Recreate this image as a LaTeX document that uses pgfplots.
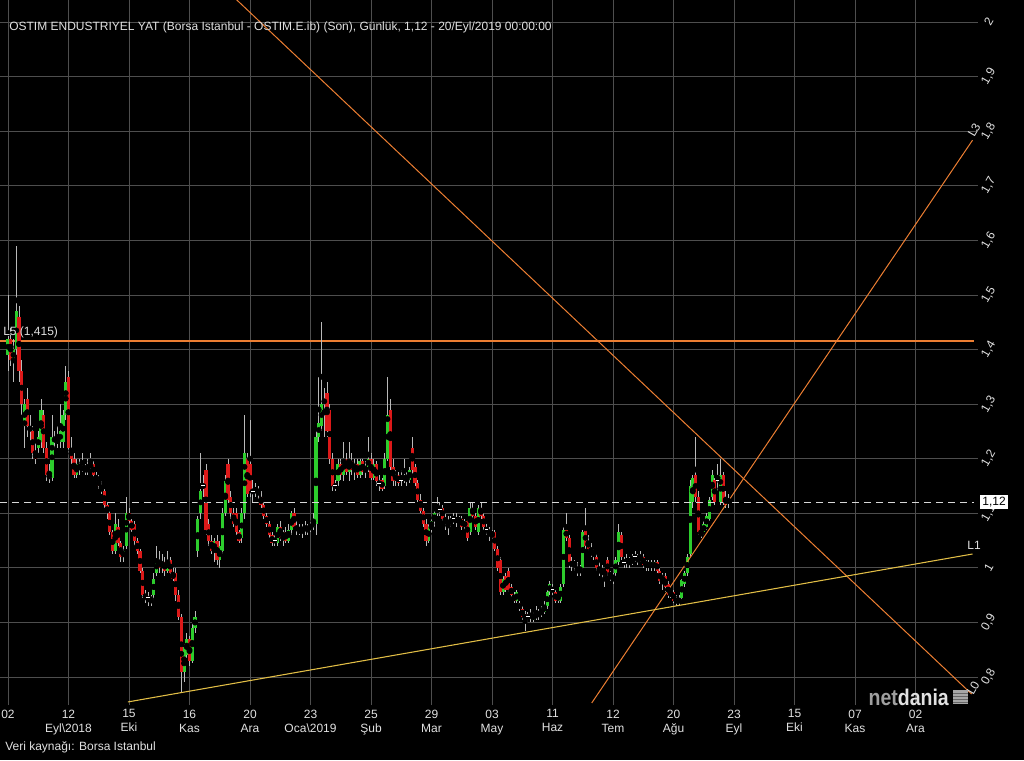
\documentclass[border=0pt]{standalone}
\usepackage{pgfplots}
\pgfplotsset{compat=1.18}
\usepackage{pgfplotstable}
\usepackage{fontspec}
\setmainfont{Liberation Sans}

\definecolor{upc}{RGB}{45,205,45}
\definecolor{downc}{RGB}{220,25,25}
\definecolor{wickc}{RGB}{185,185,185}
\definecolor{gridc}{RGB}{78,78,78}
\definecolor{orangec}{RGB}{236,126,50}
\definecolor{yellowc}{RGB}{226,190,70}
\definecolor{dashc}{RGB}{215,215,215}
\definecolor{labc}{RGB}{225,225,225}

% daily OHLC, x = trading day index
\pgfplotstableread{
i o h l c
0 1.390 1.500 1.360 1.420
1 1.420 1.440 1.370 1.380
2 1.380 1.420 1.340 1.400
3 1.400 1.590 1.390 1.470
4 1.460 1.480 1.340 1.360
5 1.360 1.380 1.280 1.300
6 1.260 1.310 1.220 1.300
7 1.310 1.330 1.240 1.260
8 1.260 1.280 1.230 1.250
9 1.250 1.260 1.200 1.210
10 1.210 1.230 1.190 1.200
11 1.220 1.250 1.210 1.240
12 1.230 1.310 1.220 1.290
13 1.280 1.290 1.210 1.220
14 1.220 1.230 1.160 1.170
15 1.170 1.190 1.155 1.165
16 1.165 1.280 1.160 1.240
17 1.240 1.250 1.220 1.230
18 1.230 1.260 1.220 1.235
19 1.230 1.300 1.220 1.250
20 1.230 1.290 1.220 1.280
21 1.280 1.370 1.270 1.340
22 1.350 1.360 1.210 1.220
23 1.220 1.240 1.190 1.200
24 1.200 1.210 1.165 1.170
25 1.170 1.200 1.165 1.190
26 1.190 1.200 1.170 1.180
27 1.180 1.210 1.175 1.185
28 1.185 1.190 1.170 1.175
29 1.175 1.200 1.170 1.185
30 1.185 1.210 1.180 1.190
31 1.190 1.195 1.165 1.170
32 1.170 1.175 1.155 1.160
33 1.160 1.170 1.145 1.150
34 1.150 1.160 1.135 1.140
35 1.140 1.145 1.110 1.115
36 1.115 1.120 1.090 1.100
37 1.100 1.105 1.060 1.065
38 1.065 1.070 1.025 1.030
39 1.030 1.100 1.025 1.080
40 1.075 1.090 1.040 1.045
41 1.045 1.050 1.010 1.020
42 1.020 1.040 1.010 1.030
43 1.040 1.130 1.035 1.100
44 1.100 1.110 1.080 1.085
45 1.085 1.090 1.065 1.070
46 1.080 1.085 1.040 1.050
47 1.050 1.055 1.025 1.030
48 1.030 1.035 0.990 0.995
49 0.995 1.000 0.945 0.950
50 0.950 0.960 0.935 0.945
51 0.945 0.955 0.930 0.945
52 0.945 0.950 0.930 0.940
53 0.950 0.990 0.940 0.980
54 0.990 1.040 0.985 1.015
55 1.015 1.030 0.990 1.000
56 1.000 1.025 0.990 1.010
57 1.010 1.020 0.985 0.995
58 0.995 1.030 0.990 1.015
59 1.015 1.020 0.985 0.990
60 0.990 1.000 0.975 0.980
61 0.990 1.000 0.940 0.950
62 0.950 0.960 0.905 0.910
63 0.910 0.915 0.770 0.810
64 0.810 0.860 0.790 0.855
65 0.840 0.880 0.835 0.870
66 0.870 0.875 0.820 0.830
67 0.830 0.900 0.825 0.890
68 0.890 0.920 0.880 0.910
69 1.030 1.095 1.020 1.090
70 1.100 1.210 1.090 1.140
71 1.150 1.170 1.130 1.150
72 1.180 1.190 1.060 1.070
73 1.080 1.090 1.040 1.050
74 1.050 1.060 1.025 1.030
75 1.030 1.055 1.010 1.050
76 1.050 1.060 1.005 1.015
77 1.015 1.050 1.000 1.040
78 1.030 1.110 1.025 1.100
79 1.100 1.170 1.095 1.160
80 1.190 1.200 1.120 1.125
81 1.130 1.140 1.090 1.100
82 1.100 1.110 1.075 1.080
83 1.100 1.110 1.060 1.065
84 1.065 1.070 1.045 1.050
85 1.055 1.110 1.045 1.100
86 1.100 1.280 1.090 1.210
87 1.200 1.210 1.130 1.135
88 1.190 1.270 1.130 1.140
89 1.140 1.160 1.120 1.140
90 1.140 1.155 1.130 1.145
91 1.145 1.150 1.125 1.135
92 1.130 1.140 1.110 1.115
93 1.115 1.120 1.090 1.095
94 1.095 1.100 1.075 1.080
95 1.080 1.085 1.055 1.060
96 1.060 1.065 1.040 1.045
97 1.050 1.060 1.040 1.050
98 1.045 1.080 1.040 1.075
99 1.075 1.085 1.050 1.055
100 1.055 1.070 1.040 1.065
101 1.065 1.075 1.045 1.050
102 1.050 1.080 1.045 1.070
103 1.070 1.105 1.060 1.100
104 1.100 1.110 1.070 1.075
105 1.075 1.085 1.060 1.070
106 1.070 1.080 1.060 1.065
107 1.065 1.080 1.055 1.075
108 1.075 1.085 1.060 1.070
109 1.070 1.080 1.060 1.075
110 1.070 1.085 1.065 1.080
111 1.075 1.100 1.070 1.085
112 1.080 1.250 1.060 1.240
113 1.240 1.350 1.230 1.265
114 1.260 1.450 1.250 1.300
115 1.300 1.330 1.240 1.310
116 1.320 1.340 1.240 1.250
117 1.290 1.300 1.190 1.200
118 1.200 1.210 1.140 1.150
119 1.150 1.160 1.140 1.150
120 1.160 1.200 1.150 1.190
121 1.190 1.200 1.160 1.170
122 1.170 1.230 1.160 1.200
123 1.200 1.210 1.170 1.175
124 1.175 1.230 1.160 1.195
125 1.195 1.210 1.170 1.180
126 1.180 1.200 1.160 1.190
127 1.190 1.200 1.165 1.170
128 1.170 1.200 1.165 1.195
129 1.195 1.200 1.170 1.175
130 1.175 1.195 1.165 1.185
131 1.185 1.240 1.175 1.200
132 1.200 1.210 1.160 1.165
133 1.165 1.200 1.160 1.190
134 1.190 1.195 1.150 1.160
135 1.155 1.170 1.140 1.155
136 1.160 1.165 1.140 1.145
137 1.150 1.210 1.145 1.200
138 1.200 1.350 1.195 1.280
139 1.290 1.310 1.180 1.185
140 1.185 1.200 1.150 1.160
141 1.160 1.180 1.150 1.170
142 1.170 1.175 1.150 1.155
143 1.160 1.180 1.150 1.160
144 1.160 1.200 1.155 1.170
145 1.170 1.175 1.150 1.160
146 1.160 1.185 1.155 1.180
147 1.220 1.240 1.170 1.180
148 1.185 1.190 1.150 1.155
149 1.155 1.160 1.120 1.125
150 1.125 1.135 1.100 1.105
151 1.105 1.110 1.075 1.080
152 1.080 1.090 1.040 1.050
153 1.050 1.080 1.045 1.075
154 1.075 1.090 1.060 1.085
155 1.085 1.105 1.075 1.100
156 1.100 1.130 1.095 1.110
157 1.107 1.120 1.095 1.107
158 1.110 1.115 1.085 1.090
159 1.090 1.100 1.070 1.085
160 1.085 1.095 1.060 1.080
161 1.080 1.095 1.075 1.090
162 1.090 1.100 1.080 1.090
163 1.090 1.100 1.075 1.085
164 1.085 1.095 1.080 1.090
165 1.090 1.095 1.070 1.075
166 1.075 1.090 1.070 1.085
167 1.085 1.090 1.050 1.055
168 1.065 1.120 1.060 1.110
169 1.110 1.120 1.090 1.095
170 1.095 1.100 1.070 1.075
171 1.065 1.115 1.060 1.110
172 1.110 1.120 1.090 1.095
173 1.095 1.100 1.070 1.075
174 1.070 1.080 1.060 1.070
175 1.070 1.075 1.050 1.060
176 1.060 1.070 1.050 1.065
177 1.065 1.070 1.030 1.035
178 1.035 1.040 0.995 1.000
179 1.015 1.020 0.950 0.955
180 0.955 0.985 0.950 0.980
181 0.985 0.990 0.955 0.960
182 0.995 1.000 0.955 0.960
183 0.965 0.970 0.945 0.950
184 0.950 0.955 0.935 0.940
185 0.940 0.960 0.935 0.955
186 0.935 0.940 0.920 0.925
187 0.925 0.930 0.905 0.910
188 0.915 0.920 0.885 0.905
189 0.910 0.920 0.900 0.910
190 0.910 0.925 0.900 0.915
191 0.905 0.920 0.900 0.915
192 0.915 0.930 0.905 0.910
193 0.910 0.925 0.905 0.920
194 0.915 0.930 0.910 0.925
195 0.920 0.940 0.915 0.930
196 0.930 0.960 0.925 0.955
197 0.955 0.975 0.950 0.970
198 0.960 0.970 0.950 0.960
199 0.955 0.960 0.935 0.940
200 0.945 0.955 0.935 0.950
201 0.940 0.970 0.935 0.965
202 0.970 1.075 0.965 1.070
203 1.070 1.100 1.050 1.055
204 1.055 1.060 1.000 1.010
205 1.010 1.020 0.995 1.005
206 1.005 1.015 0.995 1.010
207 1.000 1.010 0.985 0.990
208 0.995 1.005 0.985 1.000
209 1.000 1.070 0.995 1.065
210 1.070 1.110 1.035 1.040
211 1.050 1.060 1.030 1.035
212 1.035 1.045 1.020 1.025
213 1.025 1.035 1.015 1.030
214 1.020 1.025 0.995 1.000
215 1.000 1.010 0.985 0.990
216 0.990 1.005 0.980 1.000
217 0.995 0.995 0.965 0.985
218 1.015 1.020 0.985 0.990
219 0.990 0.995 0.975 0.985
220 0.985 0.990 0.970 0.980
221 0.990 1.020 0.985 1.015
222 1.010 1.080 1.005 1.065
223 1.060 1.065 1.015 1.020
224 1.010 1.020 1.000 1.010
225 1.010 1.025 1.000 1.015
226 1.010 1.020 1.000 1.015
227 1.015 1.025 1.005 1.010
228 1.020 1.030 1.010 1.020
229 1.020 1.025 1.005 1.015
230 1.015 1.030 1.010 1.020
231 1.020 1.025 1.000 1.005
232 1.005 1.015 0.995 1.010
233 1.010 1.015 0.995 1.000
234 1.000 1.015 0.995 1.010
235 1.000 1.015 0.995 1.010
236 1.010 1.015 0.990 0.995
237 0.995 1.000 0.970 0.975
238 0.975 0.990 0.960 0.985
239 0.985 0.990 0.955 0.965
240 0.970 0.975 0.945 0.950
241 0.955 0.960 0.945 0.950
242 0.955 0.960 0.935 0.940
243 0.945 0.950 0.930 0.935
244 0.935 0.950 0.930 0.945
245 0.945 0.980 0.940 0.977
246 0.970 0.995 0.965 0.990
247 0.990 1.025 0.985 1.020
248 1.025 1.160 1.020 1.150
249 1.120 1.170 1.110 1.165
250 1.170 1.240 1.120 1.130
251 1.130 1.140 1.060 1.065
252 1.060 1.075 1.055 1.065
253 1.065 1.085 1.060 1.080
254 1.075 1.100 1.070 1.095
255 1.090 1.130 1.085 1.125
256 1.130 1.180 1.125 1.170
257 1.160 1.165 1.115 1.120
258 1.160 1.190 1.140 1.160
259 1.120 1.200 1.115 1.170
260 1.170 1.175 1.115 1.120
261 1.130 1.140 1.110 1.115
262 1.125 1.135 1.110 1.120
}\ohlc

\begin{document}
\begin{tikzpicture}[font=\fontsize{9}{10.5}\selectfont]
\tikzset{px/.style={x=0.75pt,y=0.75pt}}
\fill[black] (0pt,0pt) rectangle (768pt,570pt);

\begin{axis}[
    at={(0pt,41.25pt)}, anchor=south west,
    scale only axis, width=733.5pt, height=528.75pt,
    xmin=-2.9, xmax=352.7, ymin=0.7487, ymax=2.0403,
    axis line style={draw=none},
    major tick length=0pt,
    xtick={0,22,...,330},
    xticklabels={{02},{12\\Eyl\textbackslash 2018},{15\\Eki},{16\\Kas},{20\\Ara},{23\\Oca\textbackslash 2019},{25\\Şub},{29\\Mar},{03\\May},{11\\Haz},{12\\Tem},{20\\Ağu},{23\\Eyl},{15\\Eki},{07\\Kas},{02\\Ara}},
    xticklabel style={text=labc, align=center, font=\fontsize{9}{10.5}\selectfont},
    ytick={0.8,0.9,1,1.1,1.2,1.3,1.4,1.5,1.6,1.7,1.8,1.9,2},
    yticklabels={{0,8},{0,9},1,{1,1},{1,2},{1,3},{1,4},{1,5},{1,6},{1,7},{1,8},{1,9},2},
    yticklabel pos=right,
    yticklabel style={text=labc, anchor=center, xshift=8pt, rotate=60, font=\fontsize{9}{10.5}\selectfont},
    grid=major,
    major grid style={draw=gridc, line width=0.6pt},
]
% L5 level
\addplot[draw=orangec, line width=1.6pt] table[row sep=\\] {x y\\ -2.9 1.415\\ 351.1 1.415\\};
% wicks
\addplot[only marks, mark=none,
    error bars/.cd, y dir=both, y explicit, error mark=none,
    error bar style={draw=wickc, line width=0.7pt}]
  table[x=i, y expr={(\thisrow{h}+\thisrow{l})/2}, y error expr={(\thisrow{h}-\thisrow{l})/2}] {\ohlc};
% rising bodies
\addplot[only marks, mark=none,
    restrict expr to domain={\thisrow{c}-\thisrow{o}}{0.0001:10},
    error bars/.cd, y dir=both, y explicit, error mark=none,
    error bar style={draw=upc, line width=2.3pt}]
  table[x=i, y expr={(\thisrow{o}+\thisrow{c})/2}, y error expr={abs(\thisrow{c}-\thisrow{o})/2}] {\ohlc};
% falling bodies
\addplot[only marks, mark=none,
    restrict expr to domain={\thisrow{o}-\thisrow{c}}{0.0001:10},
    error bars/.cd, y dir=both, y explicit, error mark=none,
    error bar style={draw=downc, line width=2.3pt}]
  table[x=i, y expr={(\thisrow{o}+\thisrow{c})/2}, y error expr={abs(\thisrow{c}-\thisrow{o})/2}] {\ohlc};
% doji
\addplot[only marks, mark=-, mark size=1.4pt, draw=white, line width=0.8pt,
    restrict expr to domain={abs(\thisrow{c}-\thisrow{o})}{0:0.00001}]
  table[x=i, y=c] {\ohlc};

% drawn lines
\addplot[color=orangec, solid, line width=0.75pt] coordinates {(79.5,2.058) (350.35,0.7689)};
\addplot[color=orangec, solid, line width=0.75pt] coordinates {(212.25,0.7524) (350.7,1.7834)};
\addplot[color=yellowc, solid, line width=0.8pt] coordinates {(43.6,0.7543) (350.7,1.0253)};
% last price
\addplot[color=dashc, line width=1.1pt, dash pattern=on 5.2pt off 3.8pt] coordinates {(-2.9,1.12) (351.4,1.12)};
\end{axis}

\begin{scope}[px]
\node[anchor=west, text=labc, inner sep=0pt] at (9,733)
  {OSTIM ENDUSTRIYEL YAT (Borsa Istanbul - OSTIM.E.ib) (Son), Günlük, 1,12 - 20/Eyl/2019 00:00:00};
\node[anchor=west, text=labc, inner sep=0pt] at (5,13) {Veri kaynağı: Borsa Istanbul};
\node[anchor=west, text=labc, inner sep=0pt] at (3,428) {L5 (1,415)};
\node[fill=white, text=black, inner sep=1.6pt] at (994,258) {1,12};
\node[text=labc, inner sep=0pt] at (974,215) {L1};
\node[text=labc, inner sep=0pt, rotate=60] at (974,630) {L3};
\node[text=labc, inner sep=0pt, rotate=60] at (973,72) {L0};
\node[text=gray!75, inner sep=0pt, anchor=east, font=\fontsize{17}{17}\bfseries\selectfont, xscale=0.86] at (949,63) {net\textcolor{labc}{dania}};
\fill[gray!70] (953,56) rectangle (968,70);
\foreach \k in {58,61,...,68} \draw[black!60, line width=0.3pt] (953,\k) -- (968,\k);
\end{scope}
\pgfresetboundingbox
\path (0pt,0pt) rectangle (768pt,570pt);
\end{tikzpicture}
\end{document}
